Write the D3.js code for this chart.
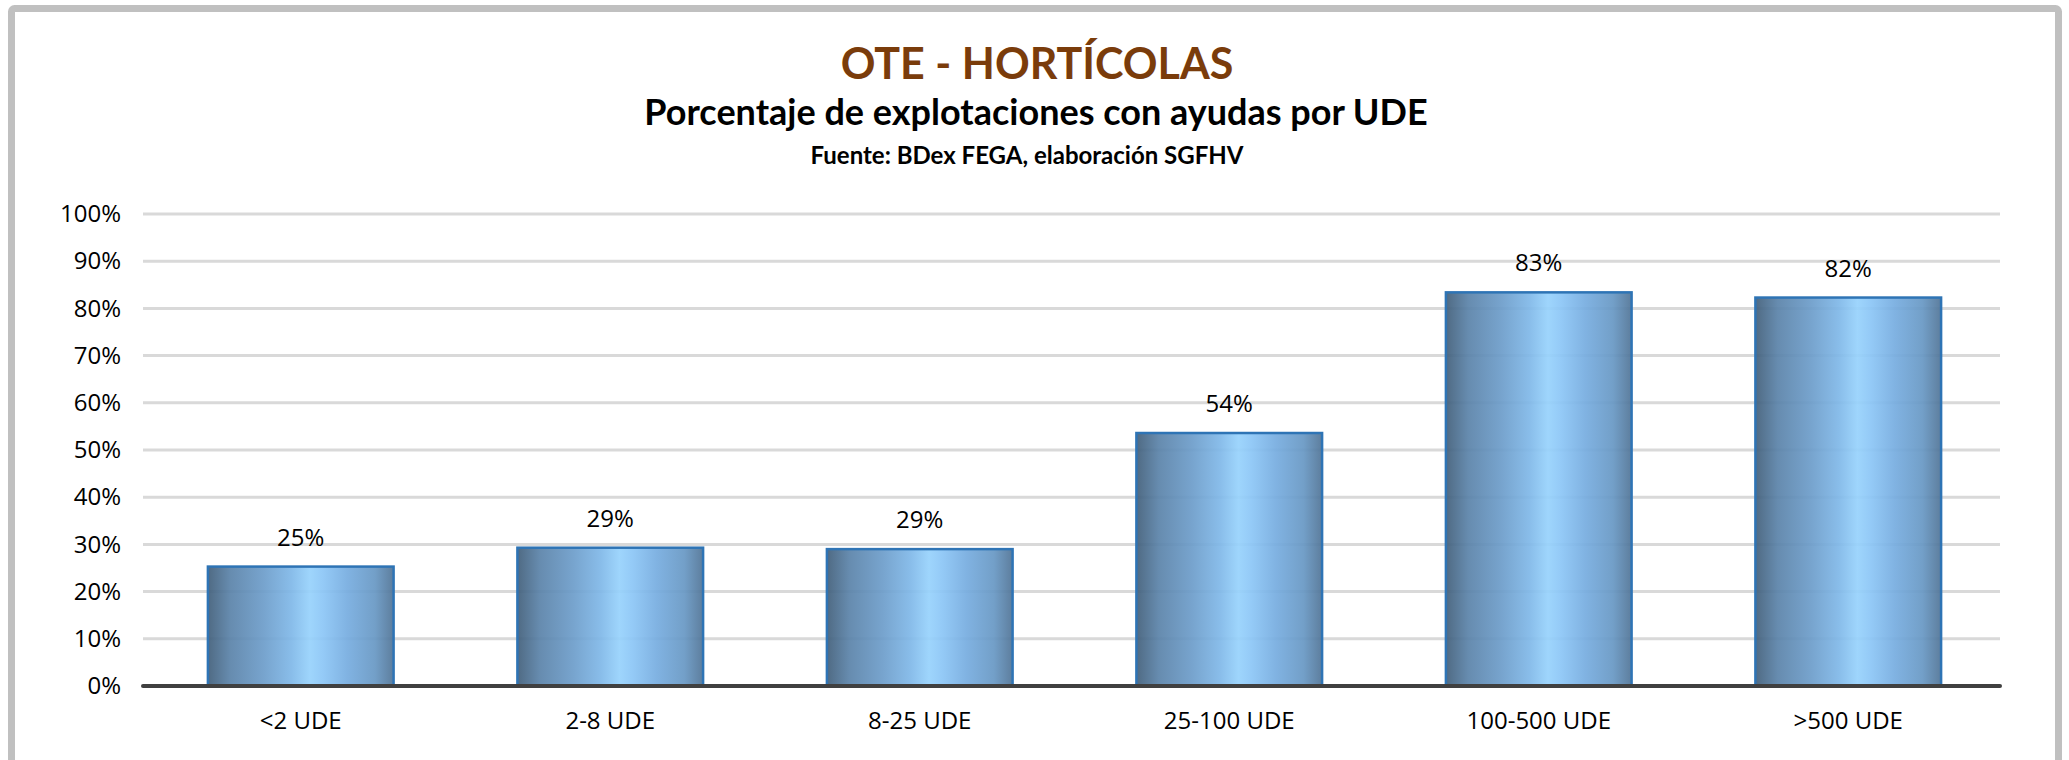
<!DOCTYPE html>
<html>
<head>
<meta charset="utf-8">
<script src="https://cdn.jsdelivr.net/npm/d3@7"></script>
<style>
  body { margin: 0; background: #fff; }
  svg { display: block; }
</style>
</head>
<body>
<div id="chart"></div>
<script>
// Data
const categories = ["<2 UDE", "2-8 UDE", "8-25 UDE", "25-100 UDE", "100-500 UDE", ">500 UDE"];
const values = [25.3, 29.3, 29.0, 53.6, 83.4, 82.3];
const valueLabels = ["25%", "29%", "29%", "54%", "83%", "82%"];
const yTicks = [0, 10, 20, 30, 40, 50, 60, 70, 80, 90, 100];

const width = 2069;
const height = 760;
const margin = { top: 214, right: 69, bottom: 74, left: 143 };

const svg = d3.select("#chart")
  .append("svg")
  .attr("width", width)
  .attr("height", height);

// bar gradient (cylinder-like shading)
const defs = svg.append("defs");
const grad = defs.append("linearGradient")
  .attr("id", "barGrad")
  .attr("x1", "0%").attr("x2", "100%")
  .attr("y1", "0%").attr("y2", "0%");
[
  [0, "#425f7a"],
  [0.12, "#5b83a9"],
  [0.3, "#6d9dca"],
  [0.45, "#80b8e8"],
  [0.55, "#97d2fc"],
  [0.62, "#8cc6f6"],
  [0.75, "#77ade0"],
  [0.9, "#6898c4"],
  [1, "#517496"]
].forEach(([o, c]) => grad.append("stop").attr("offset", o).attr("stop-color", c));

// outer frame
svg.append("rect")
  .attr("x", 11.5)
  .attr("y", 8.5)
  .attr("width", 2047)
  .attr("height", 820)
  .attr("rx", 3)
  .attr("fill", "none")
  .attr("stroke", "#c0c0c0")
  .attr("stroke-width", 7);

// titles
svg.append("text")
  .attr("x", 1037)
  .attr("y", 79)
  .attr("text-anchor", "middle")
  .attr("font-family", "Lato, 'Open Sans', sans-serif")
  .attr("font-weight", "bold")
  .attr("font-size", "43px")
  .attr("fill", "#7a3c0b")
  .text("OTE - HORTÍCOLAS");

svg.append("text")
  .attr("x", 1036)
  .attr("y", 125)
  .attr("text-anchor", "middle")
  .attr("font-family", "Lato, 'Open Sans', sans-serif")
  .attr("font-weight", "bold")
  .attr("font-size", "36px")
  .attr("fill", "#000")
  .text("Porcentaje de explotaciones con ayudas por UDE");

svg.append("text")
  .attr("x", 1027)
  .attr("y", 164)
  .attr("text-anchor", "middle")
  .attr("font-family", "Lato, 'Open Sans', sans-serif")
  .attr("font-weight", "bold")
  .attr("font-size", "24px")
  .attr("fill", "#000")
  .text("Fuente: BDex FEGA, elaboración SGFHV");

const x = d3.scaleBand()
  .domain(categories)
  .range([margin.left + 3, width - margin.right + 3])
  .paddingInner(0.4)
  .paddingOuter(0.2);

const y = d3.scaleLinear()
  .domain([0, 100])
  .range([height - margin.bottom, margin.top]);

// gridlines
svg.append("g")
  .selectAll("line")
  .data(yTicks.filter(d => d > 0))
  .join("line")
  .attr("x1", margin.left)
  .attr("x2", width - margin.right)
  .attr("y1", d => y(d))
  .attr("y2", d => y(d))
  .attr("stroke", "#d9d9d9")
  .attr("stroke-width", 3);

// y axis labels
const yAxis = svg.append("g")
  .attr("transform", `translate(${margin.left},0)`)
  .call(d3.axisLeft(y).tickValues(yTicks).tickFormat(d => d + "%").tickSize(0).tickPadding(22));
yAxis.select(".domain").remove();
yAxis.selectAll("text")
  .attr("font-family", "'Open Sans', sans-serif")
  .attr("font-size", "24px")
  .attr("fill", "#000");

// bars
svg.append("g")
  .selectAll("rect")
  .data(values)
  .join("rect")
  .attr("x", (d, i) => x(categories[i]))
  .attr("y", d => y(d))
  .attr("width", x.bandwidth())
  .attr("height", d => y(0) - y(d))
  .attr("fill", "url(#barGrad)")
  .attr("fill-opacity", 0.93)
  .attr("stroke", "#2e74b5")
  .attr("stroke-width", 2.5);

// value labels
svg.append("g")
  .selectAll("text")
  .data(values)
  .join("text")
  .attr("x", (d, i) => x(categories[i]) + x.bandwidth() / 2)
  .attr("y", d => y(d) - 21)
  .attr("text-anchor", "middle")
  .attr("font-family", "'Open Sans', sans-serif")
  .attr("font-size", "24px")
  .attr("fill", "#000")
  .text((d, i) => valueLabels[i]);

// x axis
const xAxis = svg.append("g")
  .attr("transform", `translate(0,${y(0)})`)
  .call(d3.axisBottom(x).tickSize(0).tickPadding(26));
xAxis.select(".domain")
  .attr("d", `M${margin.left},0H${width - margin.right}`)
  .attr("stroke", "#404040")
  .attr("stroke-width", 4)
  .attr("stroke-linecap", "round");
xAxis.selectAll("text")
  .attr("font-family", "'Open Sans', sans-serif")
  .attr("font-size", "24px")
  .attr("fill", "#000");
</script>
</body>
</html>
